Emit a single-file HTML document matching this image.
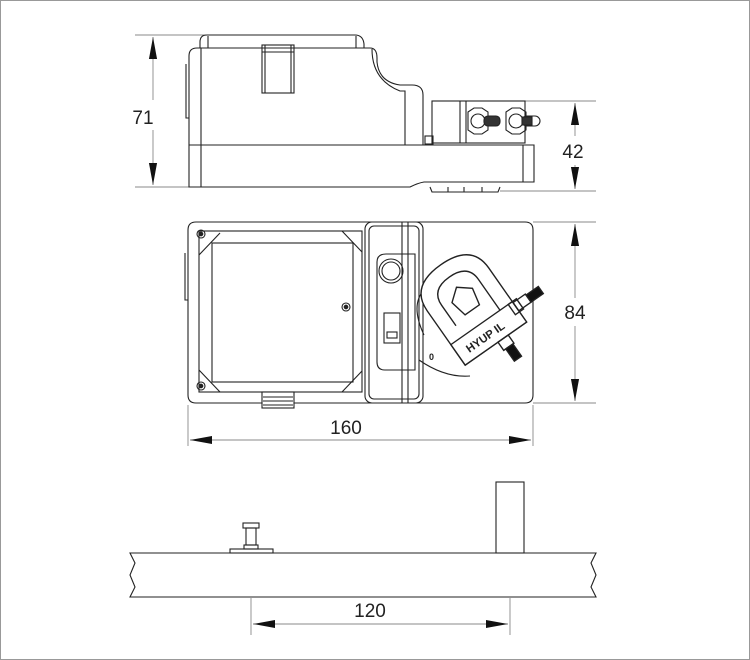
<!DOCTYPE html>
<html><head><style>
html,body{margin:0;padding:0;background:#fff;}
svg{display:block;}
text{font-family:"Liberation Sans",sans-serif;font-size:19px;fill:#222;}
text.s{font-size:9px;font-weight:bold;}
</style></head><body>
<svg width="750" height="660" viewBox="0 0 750 660" xmlns="http://www.w3.org/2000/svg">
<rect x="0.5" y="0.5" width="749" height="659" fill="#fff" stroke="#999"/>
<defs>
<marker id="a" viewBox="0 0 10 10" refX="10" refY="5" markerWidth="22" markerHeight="9" markerUnits="userSpaceOnUse" orient="auto-start-reverse" preserveAspectRatio="none"><path d="M0,0.5 L10,5 L0,9.5z" fill="#111"/></marker>
</defs>
<g stroke="#888" stroke-width="0.9" fill="none">
<line x1="135" y1="35" x2="215" y2="35"/><line x1="135" y1="187" x2="200" y2="187"/>
<line x1="153" y1="37" x2="153" y2="100" marker-start="url(#a)"/><line x1="153" y1="130" x2="153" y2="185" marker-end="url(#a)"/>
<line x1="525" y1="101" x2="596" y2="101"/><line x1="500" y1="191" x2="596" y2="191"/>
<line x1="575" y1="103" x2="575" y2="136" marker-start="url(#a)"/><line x1="575" y1="165" x2="575" y2="189" marker-end="url(#a)"/>
<line x1="533" y1="222" x2="596" y2="222"/><line x1="533" y1="403" x2="596" y2="403"/>
<line x1="575" y1="224" x2="575" y2="298" marker-start="url(#a)"/><line x1="575" y1="326" x2="575" y2="401" marker-end="url(#a)"/>
<line x1="188" y1="405" x2="188" y2="446"/><line x1="533" y1="405" x2="533" y2="446"/>
<line x1="190" y1="440" x2="531" y2="440" marker-start="url(#a)" marker-end="url(#a)"/>
<line x1="251" y1="598" x2="251" y2="635"/><line x1="510" y1="598" x2="510" y2="635"/>
<line x1="253" y1="624" x2="508" y2="624" marker-start="url(#a)" marker-end="url(#a)"/>
</g>
<text x="143" y="124" text-anchor="middle">71</text>
<text x="573" y="158" text-anchor="middle">42</text>
<text x="575" y="319" text-anchor="middle">84</text>
<text x="346" y="434" text-anchor="middle">160</text>
<text x="370" y="617" text-anchor="middle">120</text>

<g stroke="#222" stroke-width="1.1" fill="none">
<path d="M200,48 L200,42 Q200,35 207,35 L355,35 Q363,35 364,44 L364,48"/>
<path d="M189,145 L189,56 Q189,48 197,48 L370,48 Q377,48 377,58 L377,62 Q379,82 400,85 L412,85 Q423,85 423,95 L423,145"/>
<line x1="201" y1="48" x2="201" y2="187"/>
<line x1="208" y1="36" x2="208" y2="48"/><line x1="356" y1="36" x2="356" y2="48"/>
<path d="M372,49 Q372,80 400,91 L405,91 L405,145"/>
<path d="M186,64 L186,118 L189,118"/>
<rect x="262" y="45" width="32" height="48"/>
<line x1="262" y1="52" x2="294" y2="52"/><line x1="265" y1="45" x2="265" y2="93"/><line x1="291" y1="45" x2="291" y2="93"/>
<path d="M189,145 L189,187 L410,187 Q418,183 424,182 L534,182 L534,145 L189,145"/>
<line x1="523" y1="145" x2="523" y2="182"/>
<path d="M430,187 L432,192 L498,192 L500,187"/>
<line x1="448" y1="187" x2="448" y2="192"/><line x1="464" y1="187" x2="464" y2="192"/><line x1="482" y1="187" x2="482" y2="192"/>
<rect x="432" y="101" width="93" height="42"/>
<line x1="460" y1="101" x2="460" y2="143"/><line x1="466" y1="101" x2="466" y2="143"/>
<rect x="425" y="136" width="8" height="8"/>
<polygon points="468,112 474,108 482,108 488,112 488,130 482,134 474,134 468,130"/><circle cx="478" cy="121" r="7"/>
<polygon points="506,112 512,108 520,108 526,112 526,130 520,134 512,134 506,130"/><circle cx="516" cy="121" r="7"/>
<rect x="484" y="116" width="16" height="10" rx="4" fill="#333"/>
<rect x="522" y="116" width="18" height="10" rx="5"/>
<rect x="522" y="117" width="10" height="8" fill="#333"/>

<path d="M196,222 L525,222 Q533,222 533,230 L533,395 Q533,403 525,403 L196,403 Q188,403 188,395 L188,230 Q188,222 196,222 Z"/>
<path d="M185,253 L185,300 L188,300"/>
<rect x="365" y="222" width="58" height="181" rx="7"/>
<rect x="369" y="226" width="50" height="173" rx="5"/>
<line x1="402" y1="222" x2="402" y2="403"/><line x1="408" y1="222" x2="408" y2="403"/>
<path d="M377,262 Q377,254 386,254 L415,254 L415,370 L385,370 Q377,370 377,362 Z"/>
<rect x="199" y="231" width="163" height="161"/>
<rect x="212" y="243" width="141" height="139"/>
<line x1="199" y1="255" x2="220" y2="233"/><line x1="342" y1="231" x2="362" y2="252"/>
<line x1="199" y1="370" x2="220" y2="392"/><line x1="342" y1="392" x2="362" y2="371"/>
<circle cx="201" cy="234" r="4"/><circle cx="201" cy="234" r="1.8" fill="#222"/>
<circle cx="201" cy="386" r="4"/><circle cx="201" cy="386" r="1.8" fill="#222"/>
<circle cx="346" cy="307" r="4"/><circle cx="346" cy="307" r="1.8" fill="#222"/>
<circle cx="391" cy="271" r="12"/><circle cx="391" cy="271" r="9"/>
<rect x="384" y="313" width="16" height="30"/><rect x="387" y="332" width="10" height="6"/>
<rect x="262" y="392" width="32" height="16" fill="#fff"/>
<line x1="263" y1="397" x2="293" y2="397"/><line x1="263" y1="401" x2="293" y2="401"/><line x1="263" y1="405" x2="293" y2="405"/>
<path d="M424,290 Q410,305 424,335" />
<path d="M419,360 Q445,378 470,376"/>
<g transform="translate(478,318) rotate(-35) scale(1.25)">
<path d="M-30,-10 L-30,-28 Q-30,-52 0,-52 Q30,-52 30,-28 L30,25 L-30,25 Z" fill="#fff"/>
<path d="M-18,-5 L-18,-25 Q-18,-40 0,-40 Q18,-40 18,-25 L18,5"/>
<path d="M-10,-22 L0,-30 L10,-22 L7,-8 L-7,-8 Z"/>
<rect x="-30" y="5" width="60" height="20" fill="#fff"/>
<text class="s" x="-4" y="19" text-anchor="middle" stroke="none">HYUP IL</text>
<rect x="2" y="25" width="10" height="8"/><rect x="4" y="33" width="7" height="12" fill="#111"/>
<rect x="34" y="5" width="10" height="8" transform="rotate(90 34 5)"/>
<rect x="30" y="6" width="12" height="8"/><rect x="42" y="7" width="12" height="7" fill="#111"/>
</g>
<text class="s" x="429" y="360" stroke="none">0</text>

<path d="M130,553 L596,553 L591,563 L596,575 L591,587 L596,597 L130,597 L135,587 L130,575 L135,563 Z"/>
<rect x="230" y="549" width="43" height="4"/>
<rect x="244" y="545" width="14" height="4"/>
<rect x="246" y="528" width="10" height="17"/>
<rect x="243" y="523" width="16" height="5"/>
<rect x="496" y="482" width="28" height="71"/>
</g>
</svg>
</body></html>
